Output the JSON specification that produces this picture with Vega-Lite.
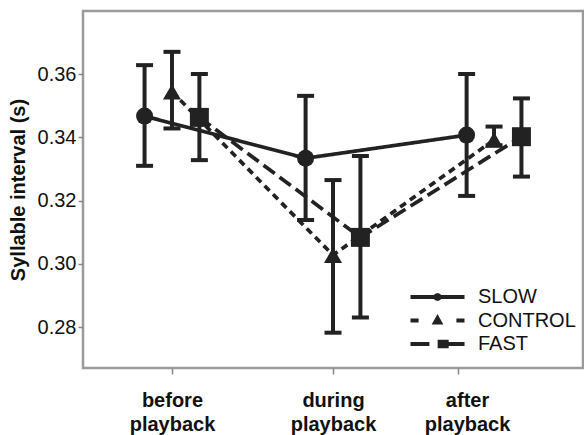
{
  "$schema": "https://vega.github.io/schema/vega-lite/v6.json",
  "width": 500,
  "height": 357,
  "autosize": "none",
  "padding": {"left": 83, "top": 11, "right": 1, "bottom": 67},
  "background": "white",
  "config": {
    "font": "Liberation Sans",
    "view": {"stroke": "#9b9b9b", "strokeWidth": 2.5},
    "axisY": {
      "domain": false, "grid": false,
      "labelFontSize": 20, "labelColor": "#111", "labelPadding": 2,
      "tickColor": "#888", "tickSize": 5, "tickWidth": 1.5,
      "titleFontSize": 20, "titleFontWeight": "bold", "titleColor": "#111", "titlePadding": 9
    },
    "axisX": {
      "domain": false, "grid": false, "title": null,
      "labelFontSize": 20, "labelFontWeight": "bold", "labelColor": "#111", "labelAngle": 0,
      "labelPadding": 16, "labelLineHeight": 24, "labelBaseline": "top",
      "tickColor": "#888", "tickSize": 6, "tickWidth": 1.5
    }
  },
  "data": {
    "values": [
      {"phase": "before playback", "group": "SLOW", "mean": 0.3467, "lo": 0.3310, "hi": 0.3628},
      {"phase": "before playback", "group": "CONTROL", "mean": 0.3544, "lo": 0.3428, "hi": 0.3670},
      {"phase": "before playback", "group": "FAST", "mean": 0.3463, "lo": 0.3328, "hi": 0.3600},
      {"phase": "during playback", "group": "SLOW", "mean": 0.3334, "lo": 0.3139, "hi": 0.3531},
      {"phase": "during playback", "group": "CONTROL", "mean": 0.3028, "lo": 0.2783, "hi": 0.3265},
      {"phase": "during playback", "group": "FAST", "mean": 0.3084, "lo": 0.2831, "hi": 0.3341},
      {"phase": "after playback", "group": "SLOW", "mean": 0.3407, "lo": 0.3215, "hi": 0.3600},
      {"phase": "after playback", "group": "CONTROL", "mean": 0.3392, "lo": 0.3375, "hi": 0.3434},
      {"phase": "after playback", "group": "FAST", "mean": 0.3402, "lo": 0.3276, "hi": 0.3523}
    ]
  },
  "encoding": {
    "x": {
      "field": "phase", "type": "nominal",
      "sort": ["before playback", "during playback", "after playback"],
      "scale": {"paddingInner": 0.149, "paddingOuter": 0.127},
      "axis": {
        "labelExpr": "split(datum.label, ' ')",
        "labelOffset": {"condition": {"test": "datum.value === 'after playback'", "value": 9}, "value": 0},
        "tickOffset": {"expr": "datum.value === 'after playback' ? -36 : 0"}
      }
    },
    "xOffset": {
      "field": "group", "type": "nominal",
      "sort": ["SLOW", "CONTROL", "FAST"],
      "scale": {"paddingInner": 0, "paddingOuter": 1}
    }
  },
  "layer": [
    {
      "mark": {"type": "rule", "strokeWidth": 4, "color": "#222"},
      "encoding": {
        "y": {"field": "lo", "type": "quantitative", "title": "Syllable interval (s)",
              "scale": {"domain": [0.26715, 0.3799], "nice": false, "zero": false},
              "axis": {"values": [0.28, 0.30, 0.32, 0.34, 0.36], "format": ".2f"}},
        "y2": {"field": "hi"}
      }
    },
    {
      "mark": {"type": "tick", "thickness": 4, "size": 17, "color": "#222", "opacity": 1},
      "encoding": {
        "y": {"field": "lo", "type": "quantitative", "title": "Syllable interval (s)",
              "axis": {"values": [0.28, 0.30, 0.32, 0.34, 0.36], "format": ".2f"}}
      }
    },
    {
      "mark": {"type": "tick", "thickness": 4, "size": 17, "color": "#222", "opacity": 1},
      "encoding": {
        "y": {"field": "hi", "type": "quantitative", "title": "Syllable interval (s)",
              "axis": {"values": [0.28, 0.30, 0.32, 0.34, 0.36], "format": ".2f"}}
      }
    },
    {
      "mark": {"type": "line", "strokeWidth": 3.7},
      "encoding": {
        "y": {"field": "mean", "type": "quantitative", "title": "Syllable interval (s)",
              "axis": {"values": [0.28, 0.30, 0.32, 0.34, 0.36], "format": ".2f"}},
        "strokeDash": {
          "field": "group", "type": "nominal",
          "scale": {"domain": ["SLOW", "CONTROL", "FAST"], "range": [[1, 0], [7, 5], [14, 6]]},
          "legend": null
        },
        "color": {
          "field": "group", "type": "nominal",
          "sort": ["SLOW", "CONTROL", "FAST"],
          "scale": {"range": ["#222222", "#222222", "#222222"]},
          "legend": {
            "orient": "none", "legendX": 325.5, "legendY": 276, "title": null,
            "symbolType": {"expr": "datum.value === 'SLOW' ? 'M-1,0H1M0.07,0L0.05,0.05L0,0.07L-0.05,0.05L-0.07,0L-0.05,-0.05L0,-0.07L0.05,-0.05Z' : datum.value === 'CONTROL' ? 'M-1,0H-0.7M-0.09,0.07L0.09,0.07L0,-0.09ZM0.7,0H1' : 'M-1,0H-0.3M0.08,-0.08H0.34V0.08H0.08ZM0.34,0H1'"},
            "symbolSize": 2916, "symbolStrokeWidth": 4,
            "symbolStrokeColor": "#222", "symbolFillColor": "#222",
            "labelFontSize": 20, "labelColor": "#111", "labelOffset": 11.5,
            "clipHeight": 20, "rowPadding": 3.5, "padding": 0, "labelLimit": 200
          }
        }
      }
    },
    {
      "mark": {"type": "point", "filled": true, "opacity": 1, "color": "#222"},
      "encoding": {
        "y": {"field": "mean", "type": "quantitative", "title": "Syllable interval (s)",
              "axis": {"values": [0.28, 0.30, 0.32, 0.34, 0.36], "format": ".2f"}},
        "shape": {
          "field": "group", "type": "nominal",
          "scale": {"domain": ["SLOW", "CONTROL", "FAST"], "range": ["circle", "triangle-up", "square"]},
          "legend": null
        },
        "size": {
          "field": "group", "type": "nominal",
          "scale": {"domain": ["SLOW", "CONTROL", "FAST"], "range": [289, 360, 289]},
          "legend": null
        }
      }
    }
  ]
}
